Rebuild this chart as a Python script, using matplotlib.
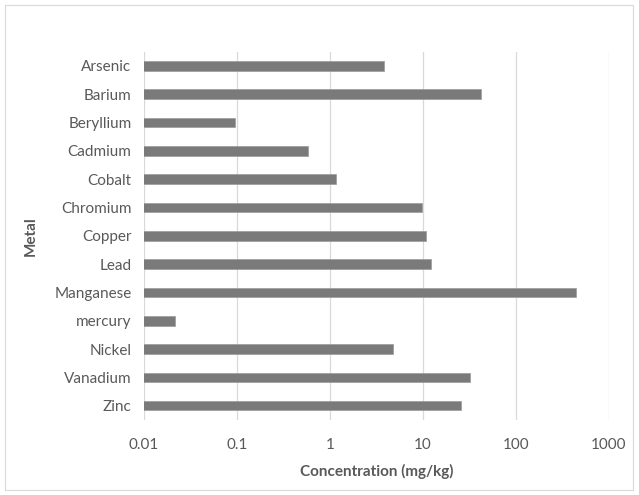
import matplotlib
matplotlib.use("Agg")
import matplotlib.pyplot as plt
from matplotlib.patches import Rectangle
import numpy as np

plt.rcParams['font.family'] = ['Lato', 'DejaVu Sans']

# data
metals = ['Arsenic', 'Barium', 'Beryllium', 'Cadmium', 'Cobalt', 'Chromium',
          'Copper', 'Lead', 'Manganese', 'mercury', 'Nickel', 'Vanadium', 'Zinc']
concentration = [3.8, 42, 0.094, 0.58, 1.16, 9.7, 10.7, 12.2, 443, 0.0216,
                 4.7, 32, 25.6]
xticks = [0.01, 0.1, 1, 10, 100, 1000]
xtick_labels = ['0.01', '0.1', '1', '10', '100', '1000']

fig = plt.figure(figsize=(6.39, 4.95), dpi=100)
ax = fig.add_axes([0.2254, 0.1519, 0.7277, 0.7434])

# chart border like the Excel chart area
fig.patches.append(Rectangle((5 / 639, 5 / 495), 628 / 639, 485 / 495,
                             transform=fig.transFigure, fill=False,
                             edgecolor='#d9d9d9', linewidth=0.8))

y = np.arange(len(metals))
ax.barh(y, concentration, height=0.34, color='#7a7a7a',
        edgecolor='#9a9a9a', linewidth=0.5, zorder=3)

ax.set_xscale('log')
ax.set_xlim(0.01, 1000)
ax.set_ylim(len(metals) - 0.5, -0.5)
ax.set_xticks(xticks)
ax.set_xticklabels(xtick_labels)
ax.xaxis.set_minor_locator(matplotlib.ticker.NullLocator())
ax.set_yticks(y)
ax.set_yticklabels(metals)

ax.grid(axis='x', color='#d9d9d9', linewidth=0.9, zorder=0)
for s in ax.spines.values():
    s.set_visible(False)
ax.tick_params(axis='both', length=0, colors='#595959', labelsize=11)
ax.tick_params(axis='x', pad=13)
ax.tick_params(axis='y', pad=9)

ax.set_xlabel('Concentration (mg/kg)', fontsize=11, fontweight='bold',
              color='#595959', labelpad=9)
ax.set_ylabel('Metal', fontsize=11, fontweight='bold', color='#595959',
              labelpad=12)

fig.savefig('out.png', dpi=100, facecolor='white')
